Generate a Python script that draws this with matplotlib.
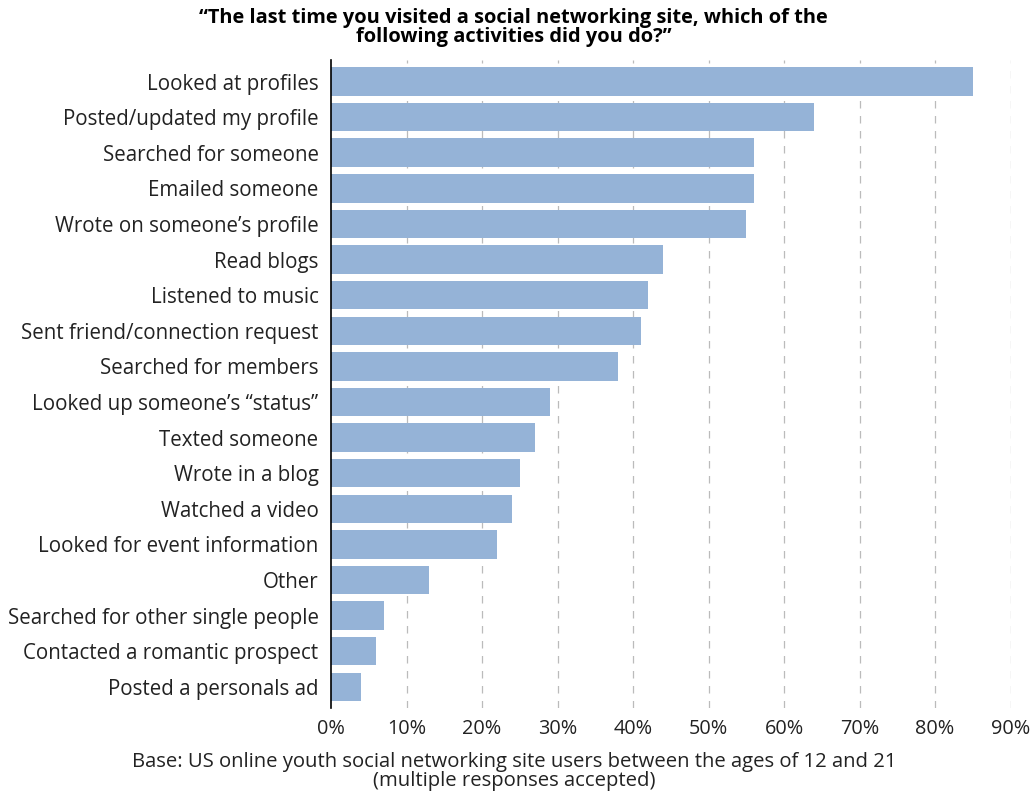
import matplotlib.pyplot as plt
import numpy as np

# Data (percent of respondents)
activities = ["Looked at profiles", "Posted/updated my profile", "Searched for someone",
              "Emailed someone", "Wrote on someone\u2019s profile", "Read blogs",
              "Listened to music", "Sent friend/connection request", "Searched for members",
              "Looked up someone\u2019s \u201cstatus\u201d", "Texted someone", "Wrote in a blog",
              "Watched a video", "Looked for event information", "Other",
              "Searched for other single people", "Contacted a romantic prospect",
              "Posted a personals ad"]
percent = [85, 64, 56, 56, 55, 44, 42, 41, 38, 29, 27, 25, 24, 22, 13, 7, 6, 4]
xticks = [0, 10, 20, 30, 40, 50, 60, 70, 80, 90]

plt.rcParams['font.family'] = ['Open Sans', 'DejaVu Sans']

fig = plt.figure(figsize=(10.36, 8.02), dpi=100)
ax = fig.add_axes([0.3195, 0.117, 0.656, 0.808])

y = np.arange(len(activities))
ax.barh(y, percent, height=0.8, color='#95B3D7', zorder=2)

ax.set_ylim(len(activities) - 0.4, -0.6)
ax.set_xlim(0, 90)
ax.set_yticks(y)
ax.set_yticklabels(activities, fontsize=14.8, color='#222222')
ax.set_xticks(xticks)
ax.set_xticklabels([str(t) + "%" for t in xticks], fontsize=14.3, color='#222222')
ax.tick_params(axis='y', length=0, pad=9)
ax.tick_params(axis='x', length=0, pad=8)

# dashed vertical gridlines
for t in xticks[1:]:
    ax.axvline(t, color='#bbbbbb', linestyle=(0, (6, 6)), linewidth=0.9, zorder=1)

for s in ['top', 'right', 'bottom']:
    ax.spines[s].set_visible(False)
ax.spines['left'].set_color('black')
ax.spines['left'].set_linewidth(1.2)

fig.text(0.496, 0.966, "\u201cThe last time you visited a social networking site, which of the\nfollowing activities did you do?\u201d",
         ha='center', va='center', fontsize=14.4, fontweight='bold', linespacing=0.9)
fig.text(0.496, 0.038, "Base: US online youth social networking site users between the ages of 12 and 21\n(multiple responses accepted)",
         ha='center', va='center', fontsize=14.6, color='#222222', linespacing=0.95)

fig.savefig("out.png", dpi=100)
